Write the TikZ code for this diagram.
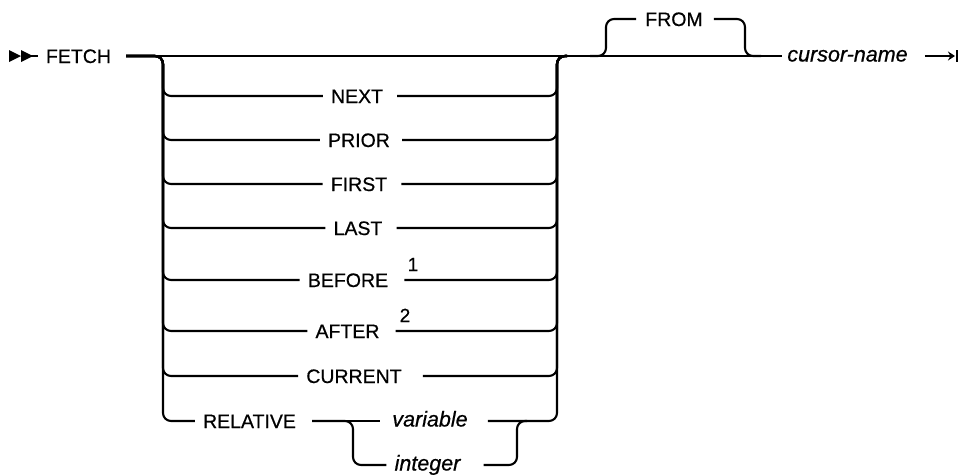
\documentclass[tikz,border=0pt]{standalone}
\usepackage{fontspec}
\setmainfont{Liberation Sans}
\newfontfamily\rrfont{Liberation Sans}[FakeBold=0.6]
\usetikzlibrary{arrows.meta}
\begin{document}
\begin{tikzpicture}[x=1pt,y=-1pt,
  rr/.style={line width=2.1pt, rounded corners=8pt},
  kw/.style={font=\rrfont\fontsize{19.5}{22}\selectfont, inner sep=0pt, text height=14pt, text depth=0pt},
  var/.style={font=\rrfont\fontsize{21.5}{24}\selectfont\itshape, inner sep=0pt, text height=11pt, text depth=0pt},
  supnum/.style={font=\rrfont\fontsize{19}{22}\selectfont, inner sep=0pt, text height=14pt, text depth=0pt}]
\useasboundingbox (0,0) rectangle (963,474);
% texts
\node[kw] (fetch) at (78.5,56) {FETCH};
\node[kw] (next) at (357,96) {NEXT};
\node[kw] (prior) at (359,140) {PRIOR};
\node[kw] (first) at (359,184) {FIRST};
\node[kw] (last) at (358,228) {LAST};
\node[kw] (before) at (348,280) {BEFORE};
\node[kw] (after) at (347.5,331) {AFTER};
\node[kw] (current) at (354,376) {CURRENT};
\node[kw] (relative) at (249.5,421) {RELATIVE};
\node[var] (variable) at (430,421) {variable};
\node[var] (integer) at (427.5,465) {integer};
\node[kw] (from) at (674,19) {FROM};
\node[var] (cursor) at (847.5,56) {cursor-name};
\node[supnum] (n1) at (413,264) {1};
\node[supnum] (n2) at (405,315) {2};
% junctions
\coordinate (sL) at (163,56);
\coordinate (sR) at (557,56);
\coordinate (iL) at (353,421);
\coordinate (iR) at (517,421);
\coordinate (fL) at (606,56);
\coordinate (fR) at (745,56);
\coordinate (stop) at (955,56);
% start symbol
\fill (9,50) -- (21,56) -- (9,62) -- cycle;
\fill (21,50) -- (33,56) -- (21,62) -- cycle;
\draw[line width=2.1pt] (30,56) -- ([xshift=-8pt]fetch.west);
% main line
\draw[rr] ([xshift=15pt]fetch.east) -- ([xshift=-5pt]cursor.west);
% choice rows
\foreach \r/\g in {next/14, prior/12, first/14, last/14, before/16, after/16, current/21}{
  \draw[rr] ([xshift=15pt]fetch.east) -| (sL |- \r) -- ([xshift=-8pt]\r.west);
  \draw[rr] ([xshift=\g pt]\r.east) -| (sR) -- ++(10,0);
}
% relative row
\draw[rr] ([xshift=15pt]fetch.east) -| (sL |- relative) -- ([xshift=-8pt]relative.west);
\draw[rr] ([xshift=16pt]relative.east) -- ([xshift=-12pt]variable.west);
\draw[rr] ([xshift=16pt]relative.east) -| (iL |- integer) -- ([xshift=-8pt]integer.west);
\draw[rr] ([xshift=20pt]variable.east) -| (sR) -- ++(10,0);
\draw[rr] ([xshift=23pt]integer.east) -| (iR) -- ++(10,0);
% FROM loop
\draw[rr] ([xshift=-16pt]fL) -| (fL |- from) -- ([xshift=-9pt]from.west);
\draw[rr] ([xshift=11pt]from.east) -| (fR) -- ++(16,0);
% end symbol
\draw[line width=2.1pt, -{Stealth[length=7pt,width=9pt]}] ([xshift=17pt]cursor.east) -- (stop);
\draw[line width=2.1pt] (stop) ++(2,-6) -- ++(0,12);
\end{tikzpicture}
\end{document}
